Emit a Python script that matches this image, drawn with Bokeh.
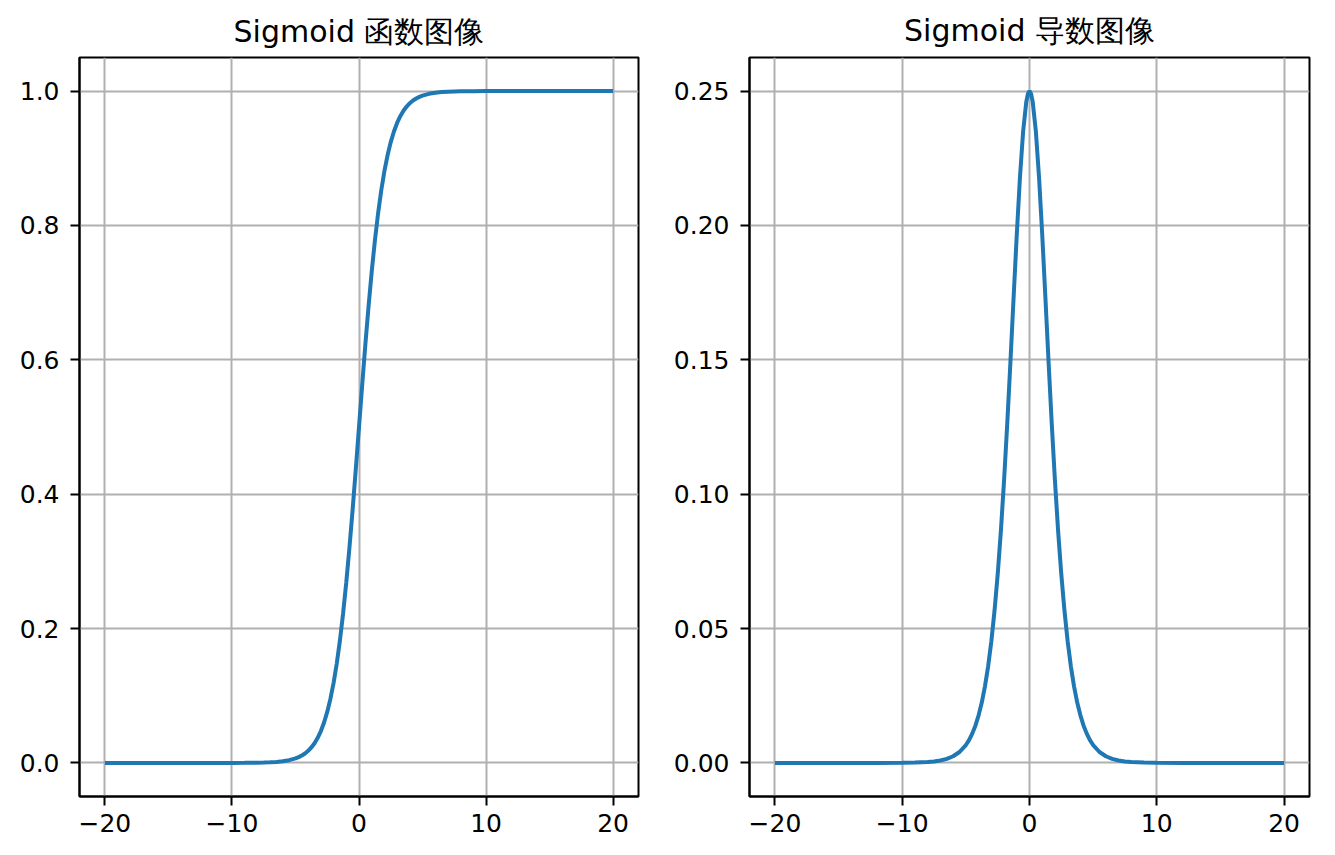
from bokeh.plotting import figure
from bokeh.layouts import row
from bokeh.models import FixedTicker, Range1d, NumeralTickFormatter
from bokeh.embed import file_html
from bokeh.resources import INLINE

x_vals = [-20, -15, -12, -10, -9, -8, -7.5, -7, -6.5, -6, -5.5, -5, -4.75, -4.5, -4.25, -4,
          -3.75, -3.5, -3.25, -3, -2.75, -2.5, -2.25, -2, -1.75, -1.5, -1.25, -1, -0.75, -0.5,
          -0.25, -0.125, 0,
          0.125, 0.25, 0.5, 0.75, 1, 1.25, 1.5, 1.75, 2, 2.25, 2.5, 2.75, 3, 3.25, 3.5, 3.75,
          4, 4.25, 4.5, 4.75, 5, 5.5, 6, 6.5, 7, 7.5, 8, 9, 10, 12, 15, 20]
sig_vals = [0.0, 0.0000003, 0.0000061, 0.0000454, 0.0001234, 0.000335, 0.000553, 0.000911,
            0.001501, 0.00247, 0.00407, 0.00669, 0.008578, 0.0110, 0.014063, 0.0180, 0.022977,
            0.0293, 0.037327, 0.0474, 0.0601, 0.0759, 0.0953, 0.1192, 0.1480, 0.1824, 0.2227,
            0.2689, 0.3208, 0.3775, 0.4378, 0.4688, 0.5,
            0.5312, 0.5622, 0.6225, 0.6792, 0.7311, 0.7773, 0.8176, 0.8520, 0.8808, 0.9047,
            0.9241, 0.9399, 0.9526, 0.962673, 0.9707, 0.977023, 0.9820, 0.985937, 0.9890,
            0.991422, 0.99331, 0.99593, 0.99753, 0.998499, 0.999089, 0.999447, 0.999665,
            0.9998766, 0.9999546, 0.9999939, 0.9999997, 1.0]
dsig_vals = [0.0, 0.0000003, 0.0000061, 0.0000454, 0.0001234, 0.000335, 0.000553, 0.000910,
             0.001499, 0.00247, 0.004054, 0.00665, 0.008505, 0.0109, 0.013865, 0.0177, 0.022449,
             0.0285, 0.035934, 0.0452, 0.0565, 0.0701, 0.0862, 0.1050, 0.1261, 0.1491, 0.1731,
             0.1966, 0.2179, 0.2350, 0.2461, 0.2490, 0.25,
             0.2490, 0.2461, 0.2350, 0.2179, 0.1966, 0.1731, 0.1491, 0.1261, 0.1050, 0.0862,
             0.0701, 0.0565, 0.0452, 0.035934, 0.0285, 0.022449, 0.0177, 0.013865, 0.0109,
             0.008505, 0.00665, 0.004054, 0.00247, 0.001499, 0.000910, 0.000553, 0.000335,
             0.0001234, 0.0000454, 0.0000061, 0.0000003, 0.0]

x_ticks = [-20, -10, 0, 10, 20]
x_labels = {-20: "\u221220", -10: "\u221210", 0: "0", 10: "10", 20: "20"}
y1_ticks = [0.0, 0.2, 0.4, 0.6, 0.8, 1.0]
y2_ticks = [0.0, 0.05, 0.10, 0.15, 0.20, 0.25]

titles = ["Sigmoid 函数图像", "Sigmoid 导数图像"]

FONT = "DejaVu Sans"


def make_fig(title, ys, y_range, y_ticks, y_fmt, border_left, border_right, frame_w, valign):
    p = figure(frame_width=frame_w, frame_height=739,
               x_range=Range1d(-22, 22), y_range=Range1d(*y_range),
               output_backend="svg", toolbar_location=None,
               min_border_left=border_left, min_border_right=border_right,
               min_border_top=57, min_border_bottom=55)
    p.title.text = title
    p.title.text_font = FONT
    p.title.text_font_size = "30px"
    p.title.text_font_style = "normal"
    p.title.align = "center"
    p.title.vertical_align = valign
    p.title.text_color = "black"
    p.title.offset = 0
    p.title.standoff = 16

    p.line(x_vals, ys, line_color="#1f77b4", line_width=4)

    p.xaxis.ticker = FixedTicker(ticks=x_ticks)
    p.xaxis.major_label_overrides = x_labels
    p.yaxis.ticker = FixedTicker(ticks=y_ticks)
    p.yaxis.formatter = NumeralTickFormatter(format=y_fmt)

    for ax in (p.xaxis, p.yaxis):
        ax.major_label_text_font = FONT
        ax.major_label_text_font_size = "25px"
        ax.major_label_text_color = "black"
        ax.axis_line_color = "black"
        ax.axis_line_width = 2
        ax.major_tick_line_color = "black"
        ax.major_tick_line_width = 2
        ax.major_tick_out = 9
        ax.major_tick_in = 0
        ax.minor_tick_line_color = None
    p.xaxis.major_label_standoff = 8
    p.yaxis.major_label_standoff = 11

    p.grid.grid_line_color = "#b0b0b0"
    p.grid.grid_line_width = 2
    p.xgrid.ticker = FixedTicker(ticks=x_ticks)
    p.ygrid.ticker = FixedTicker(ticks=y_ticks)

    p.outline_line_color = "black"
    p.outline_line_width = 2
    p.outline_line_alpha = 1.0
    p.background_fill_color = "white"
    p.border_fill_color = "white"
    return p


p1 = make_fig(titles[0], sig_vals, (-0.05, 1.05), y1_ticks, "0.0", 79, 10, 559, "middle")
p2 = make_fig(titles[1], dsig_vals, (-0.0125, 0.2625), y2_ticks, "0.00", 101, 20, 560, "top")

layout = row(p1, p2)
open("out.html", "w").write(file_html(layout, INLINE))
